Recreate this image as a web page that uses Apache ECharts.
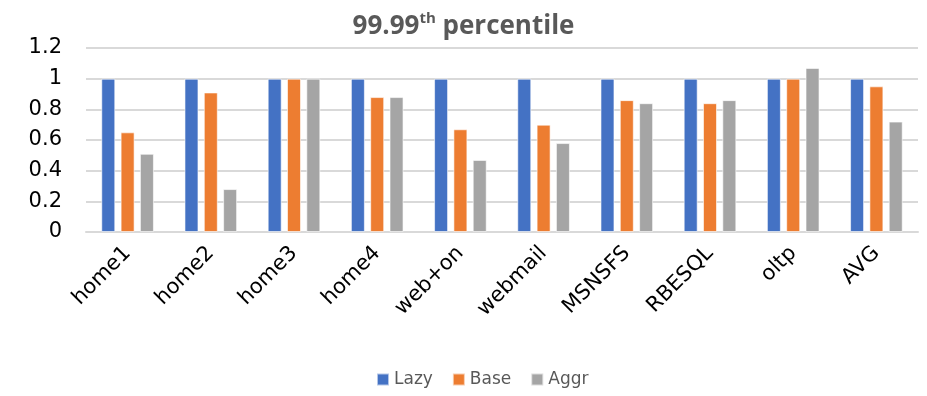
<!DOCTYPE html>
<html>
<head>
<meta charset="utf-8">
<script src="https://cdn.jsdelivr.net/npm/echarts@6/dist/echarts.min.js"></script>
<style>
  html, body { margin: 0; padding: 0; background: #fff; }
  #chart { width: 927px; height: 396px; }
</style>
</head>
<body>
<div id="chart"></div>
<script>
// Workloads on the x axis
const categories = ['home1', 'home2', 'home3', 'home4', 'web+on', 'webmail', 'MSNSFS', 'RBESQL', 'oltp', 'AVG'];

// Normalized 99.99th percentile latency per policy
const lazyValues = [1, 1, 1, 1, 1, 1, 1, 1, 1, 1];
const baseValues = [0.65, 0.91, 1, 0.88, 0.67, 0.70, 0.86, 0.84, 1, 0.95];
const aggrValues = [0.51, 0.28, 1, 0.88, 0.47, 0.58, 0.84, 0.86, 1.07, 0.72];

const seriesNames = ['Lazy', 'Base', 'Aggr'];
const seriesColors = ['#4472C4', '#ED7D31', '#A5A5A5'];

const TITLE_FONT = '"Open Sans", "Liberation Sans", sans-serif';
const AXIS_FONT = '"DejaVu Sans", "Liberation Sans", sans-serif';

const chart = echarts.init(document.getElementById('chart'), null, { renderer: 'canvas' });

const makeBar = (name, data, color) => ({
  name,
  type: 'bar',
  data,
  barWidth: 14,
  barGap: '38%',
  itemStyle: { color, borderColor: 'rgba(255,255,255,0.6)', borderWidth: 1 },
  emphasis: { disabled: true }
});

chart.setOption({
  animation: false,
  backgroundColor: '#fff',
  title: {
    text: '{a|99.99}{s|th}{a| percentile}',
    left: 'center',
    top: 6,
    textStyle: {
      rich: {
        a: { fontFamily: TITLE_FONT, fontSize: 26, fontWeight: 'bold', color: '#595959', lineHeight: 32 },
        s: { fontFamily: TITLE_FONT, fontSize: 15, fontWeight: 'bold', color: '#595959', verticalAlign: 'top', lineHeight: 22 }
      }
    }
  },
  legend: {
    data: seriesNames,
    left: 371,
    top: 366,
    itemWidth: 12,
    itemHeight: 12,
    itemGap: 19,
    icon: 'rect',
    textStyle: { fontFamily: AXIS_FONT, fontSize: 17, color: '#595959', padding: [0, 0, 0, 0] }
  },
  grid: { left: 86, right: 9, top: 48, bottom: 164, containLabel: false },
  xAxis: {
    type: 'category',
    data: categories,
    axisLine: { show: true, lineStyle: { color: '#D9D9D9', width: 2 } },
    axisTick: { show: false },
    axisLabel: {
      rotate: 45,
      margin: 18,
      fontFamily: AXIS_FONT,
      fontSize: 21,
      color: '#000'
    }
  },
  yAxis: {
    type: 'value',
    min: 0,
    max: 1.2,
    interval: 0.2,
    axisLine: { show: false },
    axisTick: { show: false },
    splitLine: { lineStyle: { color: '#D9D9D9', width: 2 } },
    axisLabel: {
      margin: 24,
      fontFamily: AXIS_FONT,
      fontSize: 21,
      color: '#000',
      formatter: v => String(Math.round(v * 10) / 10)
    }
  },
  series: [
    makeBar(seriesNames[0], lazyValues, seriesColors[0]),
    makeBar(seriesNames[1], baseValues, seriesColors[1]),
    makeBar(seriesNames[2], aggrValues, seriesColors[2])
  ]
});
</script>
</body>
</html>
